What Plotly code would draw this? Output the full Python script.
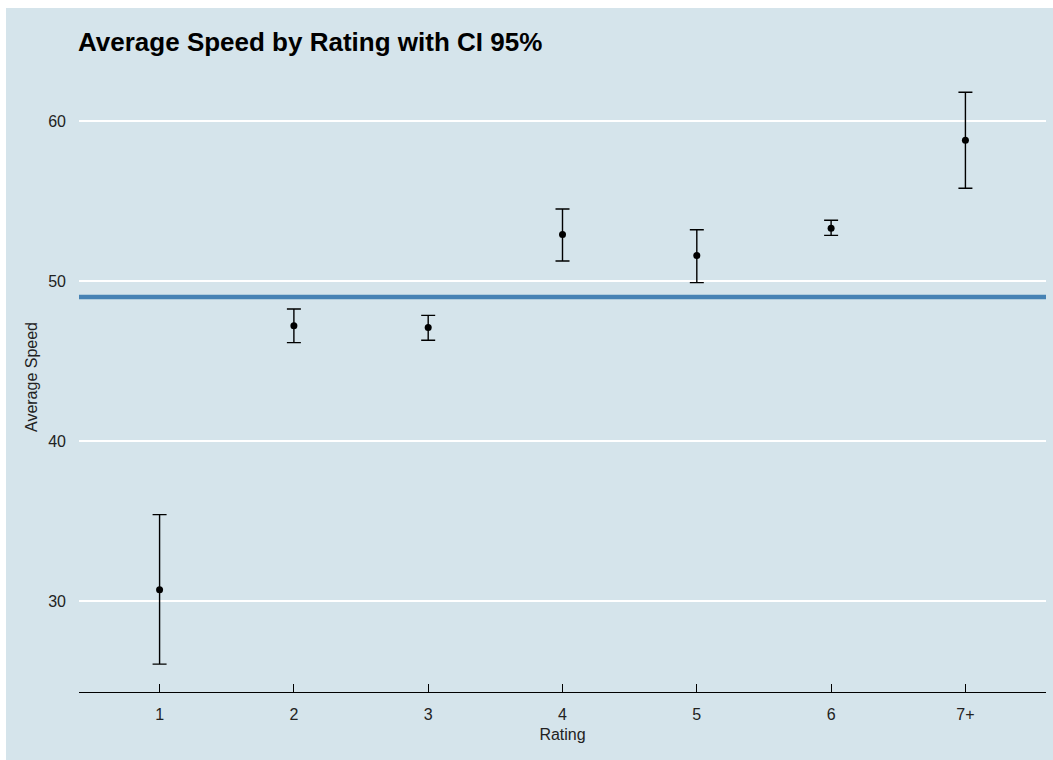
import plotly.graph_objects as go

# Data
ratings = ["1", "2", "3", "4", "5", "6", "7+"]
mean_speed = [30.7, 47.2, 47.1, 52.9, 51.6, 53.3, 58.8]
ci_lower = [26.05, 46.15, 46.3, 51.25, 49.9, 52.85, 55.8]
ci_upper = [35.4, 48.25, 47.85, 54.5, 53.2, 53.8, 61.8]
overall_mean = 49.0
y_ticks = [30, 40, 50, 60]

W, H = 1053, 760
ML, MR, MT, MB = 79, 7, 62, 68
BG = "#d5e4eb"
FONT = "Liberation Sans, Arial, sans-serif"

err_plus = [u - m for u, m in zip(ci_upper, mean_speed)]
err_minus = [m - l for m, l in zip(mean_speed, ci_lower)]

fig = go.Figure()
fig.add_trace(go.Scatter(
    x=ratings, y=mean_speed, mode="markers",
    marker=dict(color="black", size=7),
    error_y=dict(type="data", symmetric=False, array=err_plus, arrayminus=err_minus,
                 color="black", thickness=1.4, width=7),
    showlegend=False, hoverinfo="skip",
))

pw = W - ML - MR
ph = H - MT - MB

shapes = [
    # overall mean line
    dict(type="line", xref="paper", x0=0, x1=1, yref="y", y0=overall_mean, y1=overall_mean,
         line=dict(color="#4682B4", width=4.5), layer="above"),
    # white top strip
    dict(type="rect", xref="paper", yref="paper",
         x0=(0 - ML) / pw, x1=(W - ML) / pw,
         y0=(H - MB - 8) / ph, y1=(H - MB) / ph,
         fillcolor="white", line=dict(width=0), layer="above"),
    # white left strip
    dict(type="rect", xref="paper", yref="paper",
         x0=(0 - ML) / pw, x1=(6 - ML) / pw,
         y0=-MB / ph, y1=(H - MB) / ph,
         fillcolor="white", line=dict(width=0), layer="above"),
]

fig.update_layout(
    width=W, height=H,
    margin=dict(l=ML, r=MR, t=MT, b=MB),
    paper_bgcolor=BG, plot_bgcolor=BG,
    font=dict(family=FONT, color="black"),
    title=dict(text="<b>Average Speed by Rating with CI 95%</b>",
               x=78 / W, xref="container", xanchor="left",
               y=1 - 42 / H, yref="container", yanchor="middle",
               font=dict(size=26, color="black", family=FONT)),
    shapes=shapes,
    xaxis=dict(
        type="category", range=[-0.6, 6.6],
        showgrid=False, zeroline=False,
        showline=True, linecolor="black", linewidth=1,
        ticks="inside", ticklen=8, tickcolor="black", tickwidth=1,
        tickfont=dict(size=16, color="#222222"),
        ticklabelstandoff=8,
        title=dict(text="Rating", font=dict(size=16, color="#222222"), standoff=6),
    ),
    yaxis=dict(
        range=[24.31, 63.69],
        tickvals=y_ticks,
        showgrid=True, gridcolor="white", gridwidth=2,
        zeroline=False, showline=False, ticks="",
        tickfont=dict(size=16, color="#222222"),
        ticklabelstandoff=12,
        title=dict(text="Average Speed", font=dict(size=16, color="#222222"), standoff=6),
    ),
)

fig.write_html("out.html")
